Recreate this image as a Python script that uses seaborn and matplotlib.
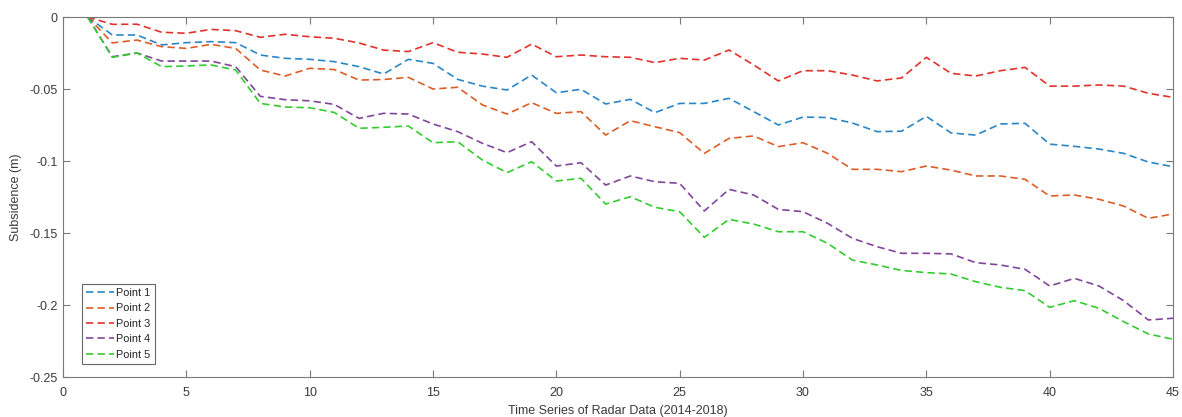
import matplotlib
matplotlib.use("Agg")
import matplotlib.pyplot as plt
import seaborn as sns
import pandas as pd

# ---- data -------------------------------------------------------------
time_index = list(range(1, 46))

point1 = [0, -0.0125, -0.0125, -0.0194, -0.0178, -0.0171, -0.0178, -0.0264, -0.0287, -0.0294,
          -0.031, -0.0345, -0.0396, -0.0294, -0.0322, -0.0433, -0.048, -0.0507, -0.0403, -0.0526,
          -0.0502, -0.0604, -0.0572, -0.0664, -0.060, -0.060, -0.0565, -0.0657, -0.075, -0.0695,
          -0.0698, -0.0736, -0.0796, -0.0793, -0.069, -0.0805, -0.082, -0.0743, -0.0738, -0.0883,
          -0.0898, -0.0917, -0.0947, -0.1007, -0.104]
point2 = [0, -0.018, -0.016, -0.0206, -0.0218, -0.019, -0.0218, -0.0368, -0.041, -0.0356,
          -0.0365, -0.0438, -0.0434, -0.0419, -0.050, -0.0488, -0.061, -0.0674, -0.0595, -0.0669,
          -0.0657, -0.082, -0.072, -0.0762, -0.0803, -0.0947, -0.0843, -0.0826, -0.090, -0.0873,
          -0.0947, -0.1058, -0.1058, -0.1074, -0.1035, -0.1063, -0.1104, -0.1104, -0.1127, -0.1243,
          -0.1236, -0.1266, -0.1313, -0.1398, -0.1368]
point3 = [0, -0.0051, -0.005, -0.0106, -0.0113, -0.0086, -0.0095, -0.0141, -0.012, -0.0137,
          -0.0148, -0.018, -0.023, -0.024, -0.0178, -0.0245, -0.0257, -0.028, -0.0188, -0.0276,
          -0.0264, -0.0276, -0.028, -0.0317, -0.0287, -0.0299, -0.0229, -0.0333, -0.0444, -0.0373,
          -0.0373, -0.0403, -0.0444, -0.0423, -0.028, -0.0391, -0.041, -0.0373, -0.035, -0.048,
          -0.048, -0.0472, -0.048, -0.053, -0.0558]
point4 = [0, -0.0276, -0.025, -0.0306, -0.0306, -0.0306, -0.0345, -0.0551, -0.0574, -0.0582,
          -0.0607, -0.0704, -0.0669, -0.0674, -0.0743, -0.0796, -0.0877, -0.0942, -0.0866, -0.1035,
          -0.1012, -0.1167, -0.1104, -0.1144, -0.1155, -0.1347, -0.1197, -0.1236, -0.1336, -0.1352,
          -0.1433, -0.1537, -0.1595, -0.1641, -0.1641, -0.1645, -0.1706, -0.1722, -0.1752, -0.1868,
          -0.1815, -0.1868, -0.197, -0.2104, -0.2092]
point5 = [0, -0.028, -0.025, -0.0345, -0.034, -0.0333, -0.0368, -0.060, -0.0625, -0.063,
          -0.0663, -0.0773, -0.0766, -0.0757, -0.0873, -0.0866, -0.0993, -0.1081, -0.1005, -0.1139,
          -0.112, -0.1299, -0.1248, -0.1322, -0.1352, -0.153, -0.1405, -0.1438, -0.1491, -0.1491,
          -0.1572, -0.1688, -0.1722, -0.176, -0.1775, -0.1785, -0.1838, -0.1877, -0.19, -0.2016,
          -0.197, -0.2023, -0.2116, -0.2201, -0.2238]

series_names = ["Point 1", "Point 2", "Point 3", "Point 4", "Point 5"]
series_values = [point1, point2, point3, point4, point5]

xticks = [0, 5, 10, 15, 20, 25, 30, 35, 40, 45]
xtick_labels = ["0", "5", "10", "15", "20", "25", "30", "35", "40", "45"]
yticks = [0, -0.05, -0.1, -0.15, -0.2, -0.25]
ytick_labels = ["0", "-0.05", "-0.1", "-0.15", "-0.2", "-0.25"]

x_label = "Time Series of Radar Data (2014-2018)"
y_label = "Subsidence (m)"

# ---- style ------------------------------------------------------------
sns.set_theme(style="white")
plt.rcParams["font.family"] = ["Liberation Sans", "DejaVu Sans"]

colors = ["#2a86c6", "#dc5d26", "#e2322c", "#82459a", "#33cc2f"]
palette = dict(zip(series_names, colors))
dashes = {n: (4.4, 2.5) for n in series_names}

rows = []
for name, vals in zip(series_names, series_values):
    for t, v in zip(time_index, vals):
        rows.append({"t": t, "v": v, "Point": name})
df = pd.DataFrame(rows)

fig = plt.figure(figsize=(11.82, 4.17), dpi=100)
ax = fig.add_axes([63 / 1182, 1 - 377 / 417, (1173 - 63) / 1182, (377 - 17) / 417])

sns.lineplot(data=df, x="t", y="v", hue="Point", style="Point", palette=palette,
             dashes=dashes, linewidth=1.2, ax=ax, sort=False)

axis_col = "#7a7a7a"
text_col = "#3a3a3a"
ax.set_xlim(0, 45)
ax.set_ylim(-0.25, 0)
ax.set_xticks(xticks, labels=xtick_labels)
ax.set_yticks(yticks, labels=ytick_labels)
ax.tick_params(direction="in", length=5, width=0.8, colors=axis_col, labelcolor=text_col,
               labelsize=9, top=True, right=True, bottom=True, left=True, pad=4)
ax.tick_params(axis="x", pad=7.5)
for s in ax.spines.values():
    s.set_visible(True)
    s.set_color(axis_col)
    s.set_linewidth(0.8)
ax.set_xlabel(x_label, fontsize=9, color=text_col, labelpad=4)
ax.set_ylabel(y_label, fontsize=9, color=text_col, labelpad=5)
ax.grid(False)

leg = ax.legend(loc="lower left", bbox_to_anchor=(0.0168, 0.036), borderaxespad=0,
                fontsize=7.8, frameon=True, fancybox=False, handlelength=2.6,
                handletextpad=0.2, labelspacing=0.5, borderpad=0.4)
leg.get_frame().set_edgecolor("#444444")
leg.get_frame().set_linewidth(0.8)
for t in leg.get_texts():
    t.set_color("#222222")

fig.savefig("out.png", dpi=100, facecolor="white")
